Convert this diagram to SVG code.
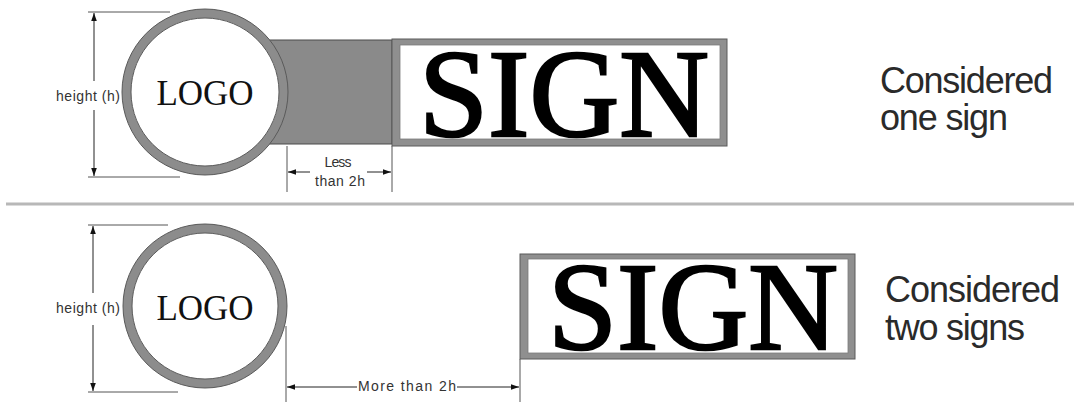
<svg xmlns="http://www.w3.org/2000/svg" width="1074" height="402" viewBox="0 0 1074 402">
  <defs>
    <marker id="arr" viewBox="0 0 10 10" refX="10" refY="5" markerWidth="8" markerHeight="8" markerUnits="userSpaceOnUse" orient="auto">
      <path d="M0,1.5 L10,5 L0,8.5 z" fill="#111"/>
    </marker>
    <style>
      .ring { fill: #ffffff; stroke: #8c8c8c; stroke-width: 9; }
      .ringEdge { fill: none; stroke: #5a5a5a; stroke-width: 1; }
      .frame { fill: #8f8f8f; stroke: #5a5a5a; stroke-width: 1; }
      .panel { fill: #ffffff; stroke: #7a7a7a; stroke-width: 0.8; }
      .bar { fill: #8a8a8a; stroke: #4a4a4a; stroke-width: 1; }
      .logo { font-family: "Liberation Serif", "Times New Roman", serif; font-size: 35px; fill: #111; text-anchor: middle; }
      .sign { font-family: "Liberation Serif", "Times New Roman", serif; font-size: 124px; fill: #000; stroke: #000; stroke-width: 2.5; text-anchor: middle; }
      .dimtxt { font-family: "Liberation Sans", Arial, sans-serif; font-size: 14px; fill: #333; text-anchor: middle; }
      .caption { font-family: "Liberation Sans", Arial, sans-serif; font-size: 36px; fill: #2a2a2a; }
      .dim { stroke: #222; stroke-width: 1; fill: none; }
      .ext { stroke: #555; stroke-width: 1; fill: none; }
      .sep { stroke: #b8b8b8; stroke-width: 3; }
    </style>
  </defs>
  <rect x="0" y="0" width="1074" height="402" fill="#ffffff"/>

  <!-- separator -->
  <line class="sep" x1="6" y1="204" x2="1074" y2="204"/>

  <!-- TOP: bar connecting logo and sign -->
  <g id="bar-top">
    <rect class="bar" x="268" y="40" width="124" height="104"/>
  </g>

  <g id="logo-top">
    <circle class="ring" cx="205" cy="92" r="78.5"/>
    <circle class="ringEdge" cx="205" cy="92" r="83"/>
    <circle class="ringEdge" cx="205" cy="92" r="74" stroke-width="0.8"/>
    <text class="logo" x="205" y="105">LOGO</text>
  </g>

  <g id="sign-top">
    <rect class="frame" x="392" y="39" width="335" height="107"/>
    <rect class="panel" x="400" y="45" width="320" height="94"/>
    <text class="sign" x="564" y="136" textLength="290" lengthAdjust="spacingAndGlyphs">SIGN</text>
  </g>

  <g id="caption-top">
    <text class="caption" x="880" y="93" textLength="173">Considered</text>
    <text class="caption" x="880" y="130" textLength="128">one sign</text>
  </g>

  <!-- BOTTOM -->
  <g id="logo-bottom">
    <circle class="ring" cx="205" cy="306" r="77.5"/>
    <circle class="ringEdge" cx="205" cy="306" r="82"/>
    <circle class="ringEdge" cx="205" cy="306" r="73" stroke-width="0.8"/>
    <text class="logo" x="205" y="320">LOGO</text>
  </g>

  <g id="sign-bottom">
    <rect class="frame" x="520" y="254" width="335" height="105"/>
    <rect class="panel" x="528" y="259" width="320" height="94"/>
    <text class="sign" x="693" y="349" textLength="290" lengthAdjust="spacingAndGlyphs">SIGN</text>
  </g>

  <g id="caption-bottom">
    <text class="caption" x="885" y="302" textLength="175">Considered</text>
    <text class="caption" x="885" y="340" textLength="140">two signs</text>
  </g>

  <!-- connectors / dimensions -->
  <g id="connectors">
    <!-- top height dimension -->
    <line class="ext" x1="88" y1="12" x2="170" y2="12"/>
    <line class="ext" x1="88" y1="177" x2="180" y2="177"/>
    <line class="dim" x1="94" y1="81" x2="94" y2="13" marker-end="url(#arr)"/>
    <line class="dim" x1="94" y1="110" x2="94" y2="176" marker-end="url(#arr)"/>
    <text class="dimtxt" x="88" y="101" textLength="64">height (h)</text>

    <!-- top gap dimension -->
    <line class="ext" x1="287" y1="146" x2="287" y2="192"/>
    <line class="ext" x1="392" y1="146" x2="392" y2="192"/>
    <line class="dim" x1="310" y1="172" x2="288" y2="172" marker-end="url(#arr)"/>
    <line class="dim" x1="367" y1="172" x2="391" y2="172" marker-end="url(#arr)"/>
    <text class="dimtxt" x="338" y="167" textLength="27">Less</text>
    <text class="dimtxt" x="340" y="186" textLength="50">than 2h</text>

    <!-- bottom height dimension -->
    <line class="ext" x1="88" y1="225" x2="168" y2="225"/>
    <line class="ext" x1="88" y1="392" x2="178" y2="392"/>
    <line class="dim" x1="93" y1="293" x2="93" y2="226" marker-end="url(#arr)"/>
    <line class="dim" x1="93" y1="325" x2="93" y2="391" marker-end="url(#arr)"/>
    <text class="dimtxt" x="88" y="313" textLength="64">height (h)</text>

    <!-- bottom gap dimension -->
    <line class="ext" x1="286" y1="326" x2="286" y2="402"/>
    <line class="ext" x1="520" y1="359" x2="520" y2="402"/>
    <line class="dim" x1="357" y1="387" x2="287" y2="387" marker-end="url(#arr)"/>
    <line class="dim" x1="457" y1="387" x2="519" y2="387" marker-end="url(#arr)"/>
    <text class="dimtxt" x="407" y="391" font-size="16" textLength="98">More than 2h</text>
  </g>
</svg>
